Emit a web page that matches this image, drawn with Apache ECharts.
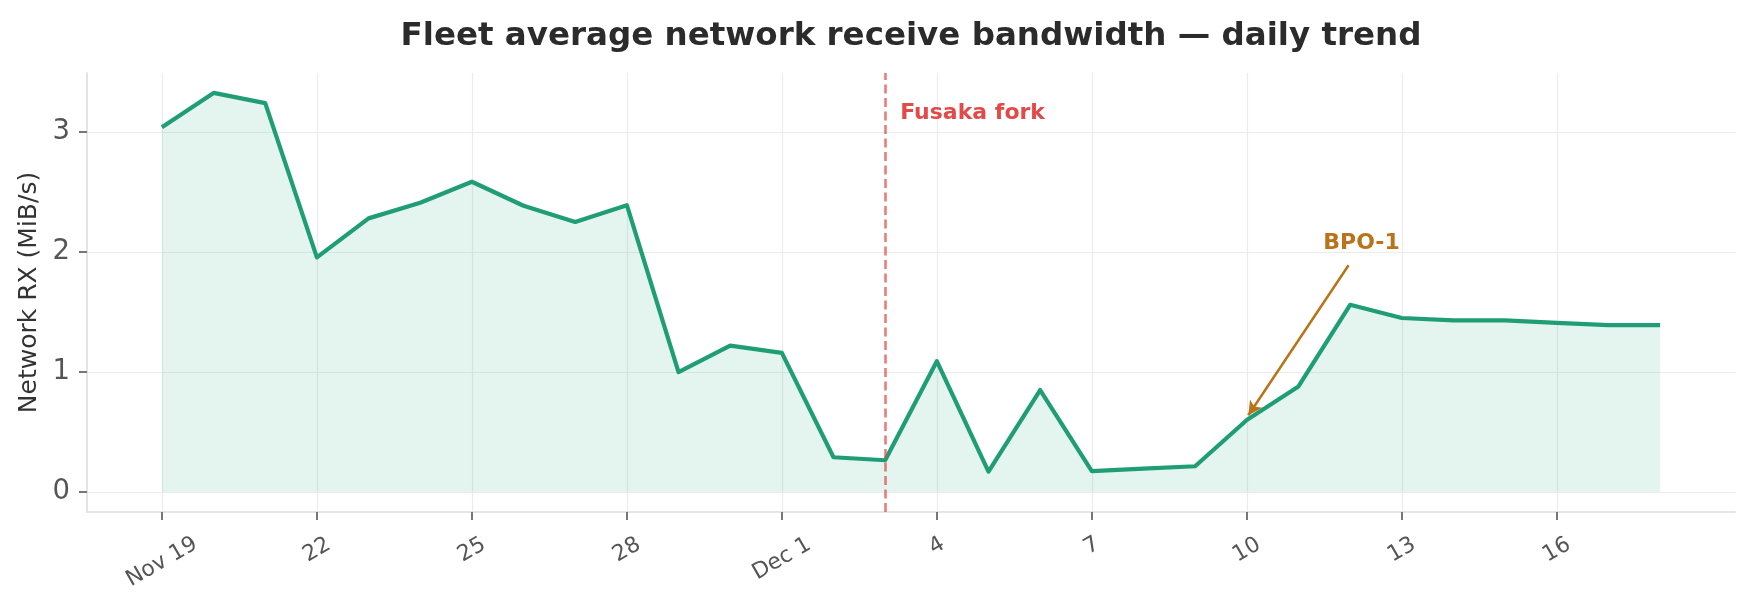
<!DOCTYPE html>
<html>
<head>
<meta charset="utf-8">
<script src="https://cdn.jsdelivr.net/npm/echarts@6/dist/echarts.min.js"></script>
<style>
  html, body { margin: 0; padding: 0; background: #ffffff; }
  #chart { width: 1749px; height: 607px; }
</style>
</head>
<body>
<div id="chart"></div>
<script>
// ---- data ----
const dayIndex = [0,1,2,3,4,5,6,7,8,9,10,11,12,13,14,15,16,17,18,19,20,21,22,23,24,25,26,27,28,29]; // Nov 19 .. Dec 18
const rxMiB = [3.04, 3.325, 3.24, 1.955, 2.28, 2.41, 2.585, 2.385, 2.25, 2.39,
               1.00, 1.22, 1.16, 0.29, 0.265, 1.09, 0.17, 0.85, 0.175, 0.195,
               0.215, 0.60, 0.88, 1.56, 1.45, 1.43, 1.43, 1.41, 1.39, 1.39];
const tickDays = [0, 3, 6, 9, 12, 15, 18, 21, 24, 27];
const tickLabels = ['Nov 19', '22', '25', '28', 'Dec 1', '4', '7', '10', '13', '16'];
const yTicks = [0, 1, 2, 3];
const forkDay = 14;          // Dec 3
const forkLabel = 'Fusaka fork';
const bpoDay = 21;           // Dec 10
const bpoLabel = 'BPO-1';

// ---- layout helpers ----
const X_MIN = -1.45, X_MAX = 30.45;
const Y_MIN = -0.166, Y_MAX = 3.491;
const GRID = { left: 87, right: 14, top: 73, bottom: 95 };
const FONT = '"DejaVu Sans", "Noto Sans", sans-serif';
const XLAB_SIZE = 22;

const seriesData = dayIndex.map((d, i) => [d, rxMiB[i]]);
const labelOf = {};
tickDays.forEach((d, i) => { labelOf[d] = tickLabels[i]; });

// measure label lengths to mimic matplotlib's rotated, centred bbox placement
const cv = document.createElement('canvas').getContext('2d');
cv.font = XLAB_SIZE + 'px ' + FONT;
const groups = {};
tickDays.forEach((d, i) => {
  const w = cv.measureText(tickLabels[i]).width;
  const m = Math.round(31 + 0.25 * w);
  (groups[m] = groups[m] || []).push(d);
});

const xAxes = [{
  type: 'value', gridIndex: 0, min: X_MIN, max: X_MAX, position: 'bottom',
  axisLine: { show: true, onZero: false, lineStyle: { color: '#dedede', width: 1.6 } },
  axisTick: { show: true, customValues: tickDays, length: 8, lineStyle: { color: '#555555', width: 1.6 } },
  axisLabel: { show: false },
  splitLine: { show: true, lineStyle: { color: '#ececec', width: 1.2 } }
}];
Object.keys(groups).forEach(m => {
  xAxes.push({
    type: 'value', gridIndex: 0, min: X_MIN, max: X_MAX, position: 'bottom',
    axisLine: { show: false, onZero: false }, axisTick: { show: false }, splitLine: { show: false },
    axisLabel: {
      show: true, customValues: groups[m], rotate: 30, margin: Number(m),
      align: 'center', verticalAlign: 'middle',
      fontFamily: FONT, fontSize: XLAB_SIZE, color: '#555555',
      formatter: v => labelOf[v] !== undefined ? labelOf[v] : ''
    }
  });
});

const chart = echarts.init(document.getElementById('chart'), null, { renderer: 'canvas' });

chart.setOption({
  animation: false,
  backgroundColor: '#ffffff',
  title: {
    text: 'Fleet average network receive bandwidth — daily trend',
    left: 911, top: 20, padding: 0, textAlign: 'center',
    textStyle: { fontFamily: FONT, fontSize: 32.5, fontWeight: 'bold', color: '#2b2b2b' }
  },
  grid: GRID,
  xAxis: xAxes,
  yAxis: {
    type: 'value', min: Y_MIN, max: Y_MAX,
    name: 'Network RX (MiB/s)', nameLocation: 'middle', nameGap: 44,
    nameTextStyle: { fontFamily: FONT, fontSize: 25, color: '#333333' },
    axisLine: { show: true, onZero: false, lineStyle: { color: '#dedede', width: 1.6 } },
    axisTick: { show: true, customValues: yTicks, length: 8, lineStyle: { color: '#555555', width: 1.6 } },
    axisLabel: { show: true, customValues: yTicks, margin: 17, fontFamily: FONT, fontSize: 27.5, color: '#555555' },
    splitLine: { show: true, lineStyle: { color: '#ececec', width: 1.2 } }
  },
  series: [{
    type: 'line',
    data: seriesData,
    xAxisIndex: 0,
    showSymbol: false,
    symbol: 'none',
    lineStyle: { color: '#1f9e76', width: 4.2, join: 'round' },
    itemStyle: { color: '#1f9e76' },
    areaStyle: { color: 'rgba(27,158,119,0.17)', origin: 'auto' },
    z: 3,
    markLine: {
      silent: true, animation: false,
      label: { show: false },
      data: [
        [{ coord: [forkDay, Y_MIN], symbol: 'none', lineStyle: { color: 'rgba(226,74,74,0.72)', width: 2.6, type: [9, 4.5] } },
         { coord: [forkDay, Y_MAX], symbol: 'none' }],
        [{ coord: [bpoDay + 1.97, 1.89], symbol: 'none', lineStyle: { color: '#b8731b', width: 2.5, type: 'solid' } },
         { coord: [bpoDay + 0.03, 0.64], symbol: 'arrow', symbolSize: [11, 14] }]
      ]
    },
    markPoint: {
      silent: true, animation: false,
      symbol: 'circle', symbolSize: 1, itemStyle: { color: 'rgba(0,0,0,0)' },
      data: [
        { coord: [forkDay + 0.29, 3.158],
          label: { show: true, formatter: forkLabel, position: 'inside', align: 'left', verticalAlign: 'middle',
                   fontFamily: FONT, fontSize: 22, fontWeight: 'bold', color: '#e24a4a' } },
        { coord: [bpoDay + 2.22, 2.07],
          label: { show: true, formatter: bpoLabel, position: 'inside', align: 'center', verticalAlign: 'middle',
                   fontFamily: FONT, fontSize: 22, fontWeight: 'bold', color: '#b8731b' } }
      ]
    }
  }]
});
</script>
</body>
</html>
